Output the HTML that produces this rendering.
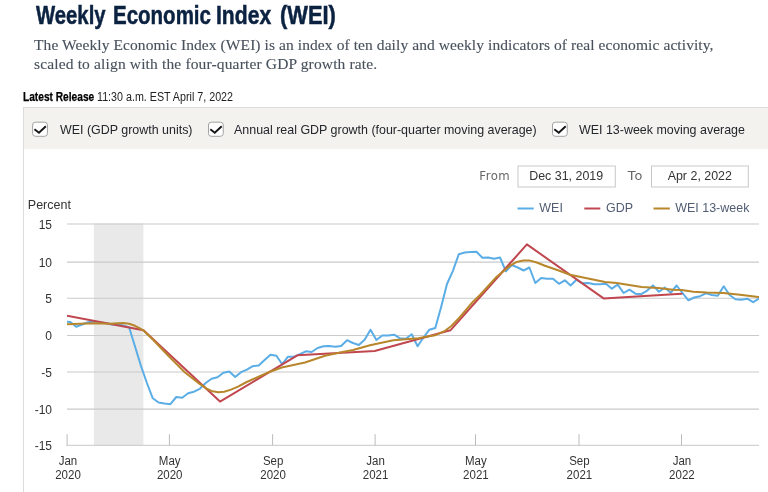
<!DOCTYPE html>
<html><head><meta charset="utf-8">
<style>
html,body{margin:0;padding:0;background:#fff;}
body{width:768px;height:492px;overflow:hidden;position:relative;font-family:"Liberation Sans",sans-serif;}
.abs{position:absolute;white-space:nowrap;}
.tw{top:0;font-size:25px;font-weight:bold;color:#0b2240;transform-origin:0 0;line-height:28px;-webkit-text-stroke:0.5px #0b2240;}
#desc{left:34px;top:0;transform:translateY(35.45px);font-family:"Liberation Serif",serif;font-size:15.5px;letter-spacing:.085px;line-height:19px;color:#48515c;-webkit-text-stroke:.12px #48515c;}
#rel{left:22.5px;top:89.6px;font-size:12px;line-height:14px;color:#000;font-weight:bold;-webkit-text-stroke:.25px #000;transform:scaleX(.847);transform-origin:0 0;}
#rel2{left:97.3px;top:89.6px;font-size:12px;line-height:14px;color:#222;transform:scaleX(.893);transform-origin:0 0;}
#panel{left:23px;top:107px;width:760px;height:40.5px;background:#f4f2ee;border:1px solid #dcdcdc;border-bottom:none;}
#vline{left:23px;top:148px;width:1px;height:344px;background:#dcdcdc;}
.lbl{top:0;font-size:13px;line-height:16px;color:#23262c;transform:translateY(121.5px) scaleX(.957);transform-origin:0 0;}
</style></head><body>
<div class="abs tw" style="left:35.6px;transform:translateY(.5px) scaleX(.812)">Weekly </div><div class="abs tw" style="left:112.7px;transform:translateY(.5px) scaleX(.82)">Economic </div><div class="abs tw" style="left:216.3px;transform:translateY(.5px) scaleX(.845)">Index </div><div class="abs tw" style="left:279.5px;transform:translateY(.5px) scaleX(.875)">(WEI)</div>
<div id="desc" class="abs">The Weekly Economic Index (WEI) is an index of ten daily and weekly indicators of real economic activity,<br><span style="letter-spacing:.15px">scaled to align with the four-quarter GDP growth rate.</span></div>
<div id="rel" class="abs">Latest Release</div><div id="rel2" class="abs">11:30 a.m. EST April 7, 2022</div>
<div id="panel" class="abs"></div>
<div id="vline" class="abs"></div>
<svg class="abs" style="left:0;top:110px" width="768" height="36" viewBox="0 110 768 36">
<rect x="32.65" y="122.2" width="14.75" height="14.1" rx="2.8" fill="#fff" stroke="#a2a2a2" stroke-width="1"/><path d="M34.45 129.3 L38.95 132.8 L45.85 126.3" fill="none" stroke="#161616" stroke-width="1.9"/>
<rect x="208.50" y="122.2" width="14.75" height="14.1" rx="2.8" fill="#fff" stroke="#a2a2a2" stroke-width="1"/><path d="M210.30 129.3 L214.80 132.8 L221.70 126.3" fill="none" stroke="#161616" stroke-width="1.9"/>
<rect x="552.50" y="122.2" width="14.75" height="14.1" rx="2.8" fill="#fff" stroke="#a2a2a2" stroke-width="1"/><path d="M554.30 129.3 L558.80 132.8 L565.70 126.3" fill="none" stroke="#161616" stroke-width="1.9"/>
</svg>
<div class="abs lbl" style="left:60.0px">WEI (GDP growth units)</div>
<div class="abs lbl" style="left:234.3px">Annual real GDP growth (four-quarter moving average)</div>
<div class="abs lbl" style="left:578.8px">WEI 13-week moving average</div>
<svg class="abs" id="chart" style="left:0;top:150px" width="768" height="342" viewBox="0 150 768 342" font-family="Liberation Sans, sans-serif" font-size="12.5" fill="#333">
<defs><clipPath id="cp"><rect x="67" y="220" width="692" height="226"/></clipPath></defs>
<rect x="93.9" y="223.4" width="49.5" height="222" fill="#e9e9e9"/>
<g stroke="#cacaca" stroke-width="1.05">
<line x1="67" x2="759" y1="223.90" y2="223.90"/>
<line x1="67" x2="759" y1="262.10" y2="262.10"/>
<line x1="67" x2="759" y1="298.30" y2="298.30"/>
<line x1="67" x2="759" y1="335.45" y2="335.45"/>
<line x1="67" x2="759" y1="372.05" y2="372.05"/>
<line x1="67" x2="759" y1="409.10" y2="409.10"/>
</g>
<g stroke="#c8c8c8" stroke-width="1">
<line x1="66.6" x2="759" y1="445.30" y2="445.30"/>
<line x1="67.1" x2="67.1" y1="434.2" y2="445.6" stroke="#bcbcbc"/>
<line x1="169.4" x2="169.4" y1="434.2" y2="445.6" stroke="#bcbcbc"/>
<line x1="272.6" x2="272.6" y1="434.2" y2="445.6" stroke="#bcbcbc"/>
<line x1="375.1" x2="375.1" y1="434.2" y2="445.6" stroke="#bcbcbc"/>
<line x1="475.5" x2="475.5" y1="434.2" y2="445.6" stroke="#bcbcbc"/>
<line x1="579.0" x2="579.0" y1="434.2" y2="445.6" stroke="#bcbcbc"/>
<line x1="681.5" x2="681.5" y1="434.2" y2="445.6" stroke="#bcbcbc"/>
</g>
<text transform="translate(27.8 208.8) scale(1.0 1)" text-anchor="start">Percent</text>
<text transform="translate(52.0 228.5) scale(0.96 1)" text-anchor="end">15</text><text transform="translate(52.0 266.7) scale(0.96 1)" text-anchor="end">10</text><text transform="translate(52.0 302.9) scale(0.96 1)" text-anchor="end">5</text><text transform="translate(52.0 340.1) scale(0.96 1)" text-anchor="end">0</text><text transform="translate(52.0 376.7) scale(0.96 1)" text-anchor="end">-5</text><text transform="translate(52.0 413.7) scale(0.96 1)" text-anchor="end">-10</text><text transform="translate(52.0 449.9) scale(0.96 1)" text-anchor="end">-15</text>
<text transform="translate(68.0 464.8) scale(0.92 1)" text-anchor="middle">Jan</text><text transform="translate(68.0 479.1) scale(0.92 1)" text-anchor="middle">2020</text>
<text transform="translate(169.7 464.8) scale(0.92 1)" text-anchor="middle">May</text><text transform="translate(169.7 479.1) scale(0.92 1)" text-anchor="middle">2020</text>
<text transform="translate(273.1 464.8) scale(0.92 1)" text-anchor="middle">Sep</text><text transform="translate(273.1 479.1) scale(0.92 1)" text-anchor="middle">2020</text>
<text transform="translate(375.6 464.8) scale(0.92 1)" text-anchor="middle">Jan</text><text transform="translate(375.6 479.1) scale(0.92 1)" text-anchor="middle">2021</text>
<text transform="translate(475.9 464.8) scale(0.92 1)" text-anchor="middle">May</text><text transform="translate(475.9 479.1) scale(0.92 1)" text-anchor="middle">2021</text>
<text transform="translate(579.4 464.8) scale(0.92 1)" text-anchor="middle">Sep</text><text transform="translate(579.4 479.1) scale(0.92 1)" text-anchor="middle">2021</text>
<text transform="translate(681.9 464.8) scale(0.92 1)" text-anchor="middle">Jan</text><text transform="translate(681.9 479.1) scale(0.92 1)" text-anchor="middle">2022</text>
<g clip-path="url(#cp)" fill="none" stroke-width="2" stroke-linejoin="round" stroke-linecap="round">
<path d="M64.5 321.5 L70.4 322.0 L76.2 326.7 L82.1 324.5 L88.0 322.3 L93.9 321.5 L99.8 322.5 L105.7 323.0 L111.6 324.5 L117.4 324.5 L123.3 325.5 L129.2 327.5 L135.1 346.7 L141.0 366.0 L146.9 383.0 L152.8 398.3 L158.6 402.5 L164.5 403.5 L170.4 404.2 L176.3 397.0 L182.2 397.8 L188.1 393.3 L194.0 391.7 L199.8 388.8 L205.7 383.0 L211.6 378.7 L217.5 377.3 L223.4 372.8 L229.3 371.5 L235.2 377.0 L241.0 372.2 L246.9 369.7 L252.8 366.2 L258.7 365.5 L264.6 360.0 L270.5 354.7 L276.4 355.8 L282.2 364.2 L288.1 356.7 L294.0 356.7 L299.9 354.2 L305.8 351.3 L311.7 352.0 L317.6 348.0 L323.4 346.2 L329.3 346.0 L335.2 346.7 L341.1 346.0 L347.0 340.2 L352.9 343.0 L358.8 345.0 L364.6 339.7 L370.5 329.7 L376.4 340.0 L382.3 335.5 L388.2 335.5 L394.1 334.7 L400.0 338.3 L405.8 338.7 L411.7 334.2 L417.6 346.2 L423.5 337.5 L429.4 329.7 L435.3 328.0 L441.2 306.7 L447.0 284.0 L452.9 270.8 L458.8 254.2 L464.7 252.5 L470.6 252.0 L476.5 251.7 L482.4 257.8 L488.2 257.5 L494.1 258.8 L500.0 257.5 L505.9 271.3 L511.8 265.0 L517.7 267.5 L523.6 270.5 L529.4 267.5 L535.3 283.0 L541.2 278.0 L547.1 278.7 L553.0 278.7 L558.9 283.8 L564.8 280.3 L570.6 285.5 L576.5 279.7 L582.4 283.3 L588.3 283.0 L594.2 284.2 L600.1 284.2 L606.0 283.7 L611.8 288.7 L617.7 284.7 L623.6 293.0 L629.5 289.7 L635.4 293.7 L641.3 294.2 L647.2 290.6 L653.0 285.4 L658.9 291.7 L664.8 287.6 L670.7 292.8 L676.6 285.5 L682.5 293.0 L688.4 300.3 L694.2 297.5 L700.1 296.2 L706.0 293.3 L711.9 295.0 L717.8 295.8 L723.7 286.3 L729.6 295.0 L735.4 299.2 L741.3 299.7 L747.2 298.7 L753.1 302.2 L759.0 298.7" stroke="#5badE6"/>
<path d="M67.0 315.8 L143.5 330.3 L220.0 401.6 L297.4 355.3 L374.7 351.0 L450.4 330.3 L526.9 244.4 L603.6 298.4 L681.6 293.7" stroke="#c0474f"/>
<path d="M63.0 324.3 L67.5 324.2 L80.0 323.8 L93.3 323.3 L110.0 323.8 L118.0 323.3 L123.3 323.0 L129.2 323.7 L135.0 325.8 L139.0 327.8 L143.3 330.3 L153.3 340.0 L168.3 355.8 L185.0 372.5 L200.0 384.2 L206.7 388.7 L212.5 391.3 L218.3 392.2 L224.2 391.7 L231.0 389.6 L238.0 386.6 L246.7 382.0 L258.0 377.0 L270.0 371.7 L281.7 367.5 L305.0 362.5 L325.0 355.8 L340.0 352.5 L353.0 350.0 L370.0 345.3 L393.3 340.3 L418.3 338.3 L435.0 335.3 L445.0 330.8 L451.7 325.8 L460.0 317.0 L473.0 301.7 L480.0 295.0 L496.7 276.7 L510.0 265.8 L516.7 261.9 L523.3 260.6 L529.2 260.4 L536.7 262.5 L545.0 265.8 L558.0 270.3 L570.0 274.7 L605.0 282.0 L616.7 283.0 L641.7 287.0 L658.3 288.0 L673.0 289.7 L681.7 290.0 L693.3 291.7 L706.7 292.5 L723.3 293.0 L740.0 294.7 L758.3 297.0 L759.0 297.1" stroke="#b8862b"/>
</g>
<g stroke-width="2">
<line x1="517.5" x2="533.7" y1="208.5" y2="208.5" stroke="#5badE6"/>
<line x1="584.3" x2="600.3" y1="208.5" y2="208.5" stroke="#c0474f"/>
<line x1="653.5" x2="669.8" y1="208.5" y2="208.5" stroke="#b8862b"/>
</g>
<g font-size="13" fill="#525d73">
<text transform="translate(539.3 212.3) scale(0.96 1)" text-anchor="start">WEI</text><text transform="translate(606.0 212.3) scale(0.96 1)" text-anchor="start">GDP</text><text transform="translate(675.2 212.3) scale(0.96 1)" text-anchor="start">WEI 13-week</text>
</g>
<g fill="#fff" stroke="#c9c9c9" stroke-width="1">
<rect x="518" y="166" width="97.3" height="21"/>
<rect x="651.5" y="166" width="96.8" height="21"/>
</g>
<g font-size="13" fill="#333">
<text transform="translate(566.2 180.3) scale(0.957 1)" text-anchor="middle">Dec 31, 2019</text><text transform="translate(699.8 180.3) scale(0.957 1)" text-anchor="middle">Apr 2, 2022</text>
</g>
<g font-family="DejaVu Sans, sans-serif" font-size="11.7" fill="#666">
<text transform="translate(479.3 179.8) scale(1.0 1)" text-anchor="start" letter-spacing="0.5">From</text><text transform="translate(627.8 179.8) scale(1.1 1)" text-anchor="start" letter-spacing="1">To</text>
</g>
</svg>
</body></html>
